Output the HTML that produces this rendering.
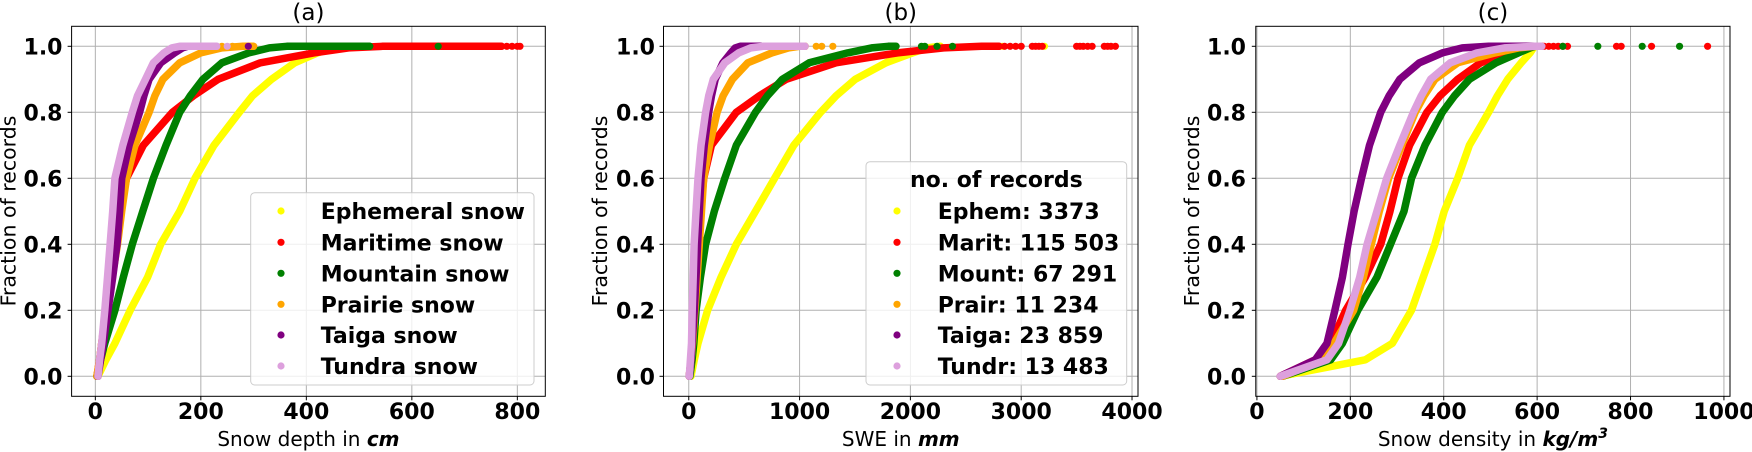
<!DOCTYPE html>
<html><head><meta charset="utf-8"><style>
html,body{margin:0;padding:0;background:#fff;}
svg{display:block;font-family:"DejaVu Sans","Liberation Sans",sans-serif;}
</style></head><body>
<svg id="fig" width="1752" height="452" viewBox="0 0 1752 452" xmlns="http://www.w3.org/2000/svg"></svg>
<script>
const colors = ["#ffff00","#ff0000","#008000","#ffa500","#800080","#dda0dd"];
const seriesNames = ["ephemeral","maritime","mountain","prairie","taiga","tundra"];
const levels = [0,0.05,0.1,0.2,0.3,0.4,0.5,0.6,0.7,0.8,0.85,0.9,0.95,0.98,0.995,1,1];
const yTicks = [0,0.2,0.4,0.6,0.8,1.0];
const yTickLabels = ["0.0","0.2","0.4","0.6","0.8","1.0"];

const depthTicks = [0,200,400,600,800];
const depthYellow = [5,20,37,66,99,124,160,189,225,273,298,334,378,421,450,471,480];
const depthRed = [3,8,12,20,28,37,47,59,91,146,186,233,313,414,480,545,770];
const depthGreen = [3,10,18,37,53,70,90,110,134,160,180,204,240,291,330,363,520];
const depthOrange = [3,8,12,22,32,42,50,59,75,102,113,128,160,200,240,280,300];
const depthPurple = [5,10,15,24,33,41,46,50,64,84,92,102,124,150,165,175,195];
const depthPink = [5,8,12,18,23,28,33,37,52,70,80,95,110,130,145,160,230];
const depthTailRed = [560,600,640,680,720,760,780,790,800,805];
const depthTailGreen = [400,440,480,500,520,650];
const depthTailOrange = [240,260,280,295];
const depthTailPurple = [200,290];
const depthTailPink = [180,220,250];

const sweTicks = [0,1000,2000,3000,4000];
const sweYellow = [20,50,83,170,291,429,602,775,948,1190,1330,1502,1779,2021,2150,2263,2270];
const sweRed = [5,20,35,55,70,83,105,135,204,429,637,879,1329,1882,2300,2643,2800];
const sweGreen = [10,30,45,66,105,152,230,325,429,602,710,844,1087,1433,1650,1800,1870];
const sweOrange = [5,20,35,55,75,95,115,135,187,256,310,394,533,750,900,1000,1050];
const swePurple = [5,20,30,50,65,80,95,110,140,180,205,239,308,380,420,464,650];
const swePink = [5,15,25,31,40,48,65,83,110,152,180,221,325,450,560,671,1050];
const sweTailRed = [2700,2750,2800,2850,2900,2950,3000,3100,3130,3160,3190,3500,3530,3560,3600,3640,3750,3780,3810,3850];
const sweTailYellow = [2830,3210];
const sweTailGreen = [2100,2130,2240,2380];
const sweTailOrange = [1150,1200,1300];

const densTicks = [0,200,400,600,800,1000];
const densYellow = [50,232,290,331,356,381,401,430,455,496,515,537,566,585,592,595,600];
const densRed = [50,125,158,190,232,265,285,302,327,364,392,430,479,540,575,595,610];
const densGreen = [55,158,183,216,257,286,315,331,360,397,423,455,512,560,585,595,605];
const densOrange = [55,140,165,207,228,245,262,282,310,339,358,381,430,510,560,595,605];
const densPurple = [50,125,150,167,183,195,208,224,241,265,283,306,348,397,440,496,605];
const densPink = [50,150,175,199,220,236,257,278,306,335,352,372,414,471,530,595,610];
const densTailRed = [615,625,635,645,655,665,770,780,845,965];
const densTailGreen = [655,730,825,905];

const legendA = ["Ephemeral snow","Maritime snow","Mountain snow","Prairie snow","Taiga snow","Tundra snow"];
const legendB = ["Ephem: 3373","Marit: 115 503","Mount: 67 291","Prair: 11 234","Taiga: 23 859","Tundr: 13 483"];

const NS="http://www.w3.org/2000/svg";
const fig=document.getElementById('fig');
function mk(tag,attrs,parent){const e=document.createElementNS(NS,tag);for(const k in attrs)e.setAttribute(k,attrs[k]);(parent||fig).appendChild(e);return e;}

const panels=[
 {id:'a',title:'(a)',left:71.6,right:545.3,xmin:-45,xmax:853,ticks:depthTicks,series:[depthYellow,depthRed,depthGreen,depthOrange,depthPurple,depthPink],
  tails:[[],depthTailRed,depthTailGreen,depthTailOrange,depthTailPurple,depthTailPink],xlab:'Snow depth in ',unit:'cm',sup:'',ylabX:8.5,tickRight:62.5},
 {id:'b',title:'(b)',left:663.5,right:1138,xmin:-228,xmax:4054,ticks:sweTicks,series:[sweYellow,sweRed,sweGreen,sweOrange,swePurple,swePink],
  tails:[sweTailYellow,sweTailRed,sweTailGreen,sweTailOrange,[],[]],xlab:'SWE in ',unit:'mm',sup:'',ylabX:600,tickRight:655},
 {id:'c',title:'(c)',left:1255.8,right:1730,xmin:-2.4,xmax:1013,ticks:densTicks,series:[densYellow,densRed,densGreen,densOrange,densPurple,densPink],
  tails:[[],densTailRed,densTailGreen,[],[],[]],xlab:'Snow density in ',unit:'kg/m',sup:'3',ylabX:1192,tickRight:1246}
];
const TOP=26.3,BOT=396.3;
function yS(v){return 376.3-v*330;}

panels.forEach(p=>{
  const g=mk('g',{});
  
  
  const xS=v=>p.left+(v-p.xmin)/(p.xmax-p.xmin)*(p.right-p.left);
  p.ticks.forEach(t=>{const l=mk('line',{x1:xS(t),x2:xS(t),y1:TOP,y2:BOT,stroke:'#b0b0b0','stroke-width':1},g);
    });
  yTicks.forEach(t=>{const l=mk('line',{x1:p.left,x2:p.right,y1:yS(t),y2:yS(t),stroke:'#b0b0b0','stroke-width':1},g);
    });
  p.series.forEach((arr,i)=>{
    const pts=arr.map((v,k)=>xS(v).toFixed(1)+','+yS(levels[k]).toFixed(1)).join(' ');
    const pl=mk('polyline',{points:pts,fill:'none',stroke:colors[i],'stroke-width':7.5,'stroke-linejoin':'round','stroke-linecap':'round'},g);
    
    
    p.tails[i].forEach(v=>{const c=mk('circle',{cx:xS(v),cy:yS(1),r:3.6,fill:colors[i]},g);
      });
  });
  const fr=mk('rect',{x:p.left,y:TOP,width:p.right-p.left,height:BOT-TOP,fill:'none',stroke:'#000','stroke-width':1},g);
  
  p.ticks.forEach(t=>{mk('line',{x1:xS(t),x2:xS(t),y1:BOT,y2:BOT+4,stroke:'#000'},g);
    const tx=mk('text',{x:xS(t),y:419,'text-anchor':'middle','font-size':22,'font-weight':'bold'},g);
    tx.textContent=String(t);});
  yTicks.forEach((t,k)=>{mk('line',{x1:p.left-4,x2:p.left,y1:yS(t),y2:yS(t),stroke:'#000'},g);
    const tx=mk('text',{x:p.tickRight,y:yS(t)+8,'text-anchor':'end','font-size':22,'font-weight':'bold'},g);
    tx.textContent=yTickLabels[k];});
  const ti=mk('text',{x:(p.left+p.right)/2,y:20,'text-anchor':'middle','font-size':23},g);
  ti.textContent=p.title;
  const xl=mk('text',{x:(p.left+p.right)/2,y:446,'text-anchor':'middle','font-size':20},g);
  
  const t1=mk('tspan',{},xl);t1.textContent=p.xlab;
  const t2=mk('tspan',{'font-weight':'bold','font-style':'italic'},xl);t2.textContent=p.unit;
  if(p.sup){const t3=mk('tspan',{'font-weight':'bold','font-style':'italic','font-size':14,dy:-8},xl);t3.textContent=p.sup;}
  const yl=mk('text',{x:0,y:0,'text-anchor':'middle','font-size':20.5,transform:`translate(${p.ylabX+7},211) rotate(-90)`},g);
  yl.textContent='Fraction of records';
});

function legend(x,y,w,h,title,labels,mx,tx){
  const g=mk('g',{});
  
  
  mk('rect',{x:x,y:y,width:w,height:h,rx:4,fill:'#fff','fill-opacity':0.8,stroke:'#cccccc'},g);
  if(title){const t=mk('text',{x:x+w/2,y:187,'text-anchor':'middle','font-size':22,'font-weight':'bold'},g);
    t.textContent=title;}
  const rows=[211,242.3,273.3,304.3,335,366];
  labels.forEach((l,i)=>{
    const c=mk('circle',{cx:mx,cy:rows[i],r:3.6,fill:colors[i]},g);
    
    const t=mk('text',{x:tx,y:rows[i]+8,'font-size':22,'font-weight':'bold'},g);
    t.textContent=l;
  });
}
legend(250.7,192.7,283.3,192.3,'',legendA,281,320.7);
legend(866,161.7,260.7,223.3,'no. of records',legendB,897,937.7);
</script>
</body></html>
